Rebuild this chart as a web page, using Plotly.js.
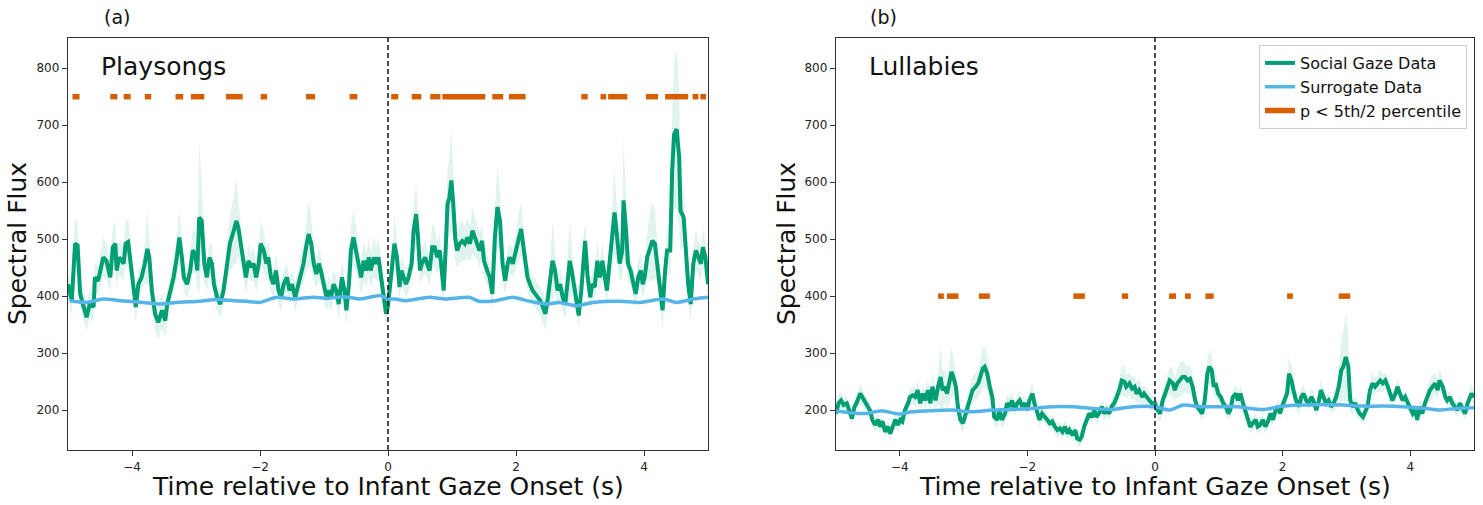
<!DOCTYPE html>
<html><head><meta charset="utf-8">
<script src="https://cdn.plot.ly/plotly-3.0.1.min.js"></script>
<style>html,body{margin:0;padding:0;background:#fff}</style>
</head><body><div id="chart" style="width:1483px;height:505px"></div>
<script>
// ---------- Playsongs (a) ----------
const psTime = [
-5.00,-4.94,-4.89,-4.85,-4.81,-4.76,-4.71,-4.66,-4.60,-4.58,
-4.53,-4.47,-4.45,-4.40,-4.34,-4.30,-4.26,-4.24,-4.20,-4.16,
-4.13,-4.10,-4.06,-4.02,-3.98,-3.94,-3.90,-3.85,-3.80,-3.76,
-3.73,-3.69,-3.64,-3.59,-3.53,-3.48,-3.45,-3.40,-3.35,-3.30,
-3.26,-3.22,-3.19,-3.14,-3.09,-3.05,-3.01,-2.98,-2.95,-2.91,
-2.87,-2.83,-2.79,-2.75,-2.72,-2.67,-2.62,-2.57,-2.52,-2.47,
-2.41,-2.37,-2.34,-2.30,-2.26,-2.22,-2.18,-2.14,-2.10,-2.06,
-2.02,-1.99,-1.94,-1.90,-1.87,-1.83,-1.79,-1.75,-1.71,-1.67,
-1.63,-1.58,-1.54,-1.50,-1.45,-1.40,-1.36,-1.32,-1.28,-1.24,
-1.20,-1.16,-1.12,-1.08,-1.05,-1.01,-0.96,-0.93,-0.89,-0.85,
-0.81,-0.77,-0.72,-0.68,-0.65,-0.61,-0.58,-0.54,-0.50,-0.46,
-0.42,-0.38,-0.34,-0.30,-0.27,-0.22,-0.18,-0.15,-0.11,-0.07,
-0.03,0.00,
0.04,0.07,0.10,0.14,0.18,0.21,0.25,0.28,0.32,0.37,
0.40,0.44,0.47,0.50,0.53,0.58,0.61,0.65,0.69,0.73,
0.77,0.81,0.84,0.87,0.90,0.93,0.96,0.99,1.02,1.05,
1.08,1.12,1.16,1.20,1.24,1.28,1.32,1.36,1.40,1.43,
1.47,1.50,1.55,1.59,1.63,1.67,1.71,1.75,1.79,1.83,
1.87,1.90,1.95,2.00,2.04,2.08,2.11,2.15,2.18,2.22,
2.26,2.30,2.34,2.38,2.42,2.46,2.50,2.53,2.57,2.61,
2.65,2.69,2.73,2.77,2.81,2.84,2.87,2.91,2.95,2.98,
3.02,3.05,3.08,3.12,3.16,3.19,3.23,3.27,3.31,3.35,
3.39,3.42,3.46,3.51,3.54,3.58,3.62,3.66,3.68,3.72,
3.75,3.79,3.83,3.87,3.91,3.95,3.98,4.01,4.05,4.09,
4.13,4.17,4.21,4.25,4.29,4.33,4.36,4.41,4.44,4.47,
4.51,4.55,4.57,4.62,4.66,4.69,4.73,4.77,4.81,4.85,
4.89,4.92,4.96,4.98,5.00];
const psMean = [
421,392,492,489,404,386,363,386,381,433,
427,457,468,462,433,486,492,445,468,462,
457,492,495,457,410,381,421,433,457,483,
468,410,369,354,375,357,386,410,433,468,
503,468,433,421,445,480,474,445,538,532,
457,433,468,457,421,398,386,410,457,492,
515,532,521,492,457,433,462,451,457,433,
457,492,480,457,468,433,421,445,410,398,
421,433,410,421,398,421,445,457,486,509,
492,457,439,457,445,421,398,410,398,421,
410,386,433,410,375,421,480,503,480,457,
433,462,445,468,445,468,457,468,433,398,
369,383,
421,457,492,468,416,445,433,421,433,457,
515,544,503,445,457,468,457,445,486,486,
468,480,445,410,480,562,573,603,562,503,
480,492,497,492,503,492,515,503,492,480,
497,462,445,433,404,503,556,532,457,427,
457,468,457,480,503,518,492,457,433,421,
410,404,398,392,381,369,398,421,462,445,
410,421,398,386,433,462,445,416,398,366,
410,468,497,433,398,421,416,462,433,462,
433,410,457,515,547,503,457,480,568,515,
457,445,421,404,433,445,421,433,468,486,
497,492,457,421,375,445,480,480,620,684,
693,643,550,538,480,421,386,457,480,468,
457,486,468,445,421];
const psErr = [
25,25,45,40,25,25,25,25,25,25,
25,30,35,30,25,35,40,30,30,30,
30,40,40,30,25,25,25,25,35,65,
40,25,30,30,30,30,25,25,30,35,
50,35,25,25,30,40,35,30,135,60,
35,25,30,30,25,25,25,25,35,50,
60,75,50,35,25,30,30,25,30,25,
30,40,35,30,30,25,25,30,25,25,
25,25,25,25,25,25,30,35,45,58,
45,30,25,30,25,25,25,25,25,25,
25,25,30,25,25,30,40,48,40,30,
30,35,30,35,30,35,30,35,30,25,
25,25,
25,25,50,30,25,25,25,25,25,25,
40,60,35,25,25,30,25,25,40,35,
30,30,25,25,35,60,70,90,60,40,
30,35,35,30,35,30,40,35,30,30,
30,30,25,25,30,50,73,50,30,25,
25,25,25,30,40,47,35,25,25,25,
25,25,25,25,28,29,25,25,70,40,
25,30,25,25,40,70,40,25,25,25,
25,35,30,25,25,25,25,35,25,30,
25,25,30,60,79,45,30,50,110,60,
30,25,25,25,30,30,25,25,40,60,
70,60,35,25,35,30,40,45,100,130,
140,120,70,50,35,30,30,30,35,30,
30,35,30,25,25];
const psSurTime = [-4.97,-4.71,-4.45,-4.19,-3.82,-3.56,-3.30,-2.94,-2.67,-2.41,-2.21,-2.00,-1.74,-1.48,-1.16,-0.95,-0.69,-0.43,-0.12,0.00,
 0.12,0.27,0.64,0.90,1.27,1.42,1.68,1.95,2.21,2.47,2.68,2.94,3.20,3.62,3.94,4.30,4.51,4.77,5.00];
const psSurMean = [392,389,395,392,389,386,389,391,394,392,391,389,398,395,398,396,399,395,401,395,
 395,392,398,395,398,391,392,398,391,386,389,383,389,391,389,395,389,395,398];
const psSigStart = [-4.93,-4.34,-4.13,-3.80,-3.32,-3.08,-2.53,-1.99,-1.28,-0.60,0.05,0.37,0.66,0.85,1.63,1.89,3.02,3.32,3.44,4.03,4.33,4.76,4.88];
const psSigEnd   = [-4.82,-4.23,-4.02,-3.70,-3.20,-2.87,-2.27,-1.89,-1.14,-0.48,0.16,0.52,0.82,1.52,1.80,2.15,3.12,3.41,3.74,4.22,4.69,4.85,4.97];
const psSigLevel = 750;

// ---------- Lullabies (b) ----------
const lbTime = [
-5.00,-4.96,-4.92,-4.88,-4.83,-4.80,-4.75,-4.71,-4.68,-4.62,
-4.59,-4.54,-4.50,-4.47,-4.43,-4.39,-4.34,-4.31,-4.27,-4.23,
-4.19,-4.15,-4.11,-4.07,-4.03,-3.99,-3.96,-3.92,-3.87,-3.84,
-3.80,-3.76,-3.72,-3.68,-3.64,-3.60,-3.56,-3.52,-3.49,-3.44,
-3.40,-3.36,-3.33,-3.30,-3.26,-3.22,-3.19,-3.16,-3.12,-3.09,
-3.05,-3.01,-2.97,-2.93,-2.89,-2.86,-2.81,-2.77,-2.74,-2.70,
-2.67,-2.63,-2.59,-2.55,-2.52,-2.47,-2.44,-2.40,-2.35,-2.32,
-2.28,-2.24,-2.20,-2.16,-2.12,-2.08,-2.04,-2.00,-1.97,-1.92,
-1.89,-1.84,-1.81,-1.77,-1.72,-1.69,-1.65,-1.61,-1.57,-1.53,
-1.49,-1.45,-1.41,-1.37,-1.34,-1.29,-1.25,-1.22,-1.18,-1.15,
-1.11,-1.07,-1.03,-0.99,-0.95,-0.92,-0.88,-0.83,-0.80,-0.76,
-0.72,-0.68,-0.64,-0.60,-0.56,-0.52,-0.48,-0.45,-0.40,-0.36,
-0.32,-0.29,-0.25,-0.20,-0.17,-0.13,-0.09,-0.05,
0.00,0.04,0.08,0.12,0.16,0.19,0.23,0.28,0.31,0.35,
0.39,0.43,0.47,0.51,0.55,0.59,0.63,0.66,0.70,0.74,
0.78,0.82,0.85,0.89,0.92,0.95,0.99,1.03,1.07,1.11,
1.15,1.18,1.22,1.27,1.30,1.34,1.38,1.42,1.46,1.49,
1.54,1.58,1.61,1.65,1.69,1.73,1.77,1.81,1.85,1.89,
1.93,1.96,1.99,2.03,2.07,2.10,2.14,2.17,2.21,2.26,
2.29,2.33,2.37,2.41,2.45,2.48,2.53,2.57,2.60,2.64,
2.68,2.72,2.76,2.80,2.84,2.88,2.92,2.95,2.99,3.03,
3.06,3.10,3.14,3.18,3.21,3.26,3.30,3.33,3.37,3.41,
3.45,3.49,3.53,3.57,3.61,3.65,3.68,3.72,3.77,3.80,
3.84,3.88,3.92,3.96,3.99,4.04,4.08,4.11,4.15,4.19,
4.23,4.27,4.31,4.35,4.39,4.43,4.46,4.51,4.55,4.58,
4.62,4.66,4.70,4.74,4.78,4.82,4.86,4.90,4.93,4.96,
5.00];
const lbMean = [
194,212,217,209,212,200,185,206,212,229,
223,212,206,200,183,174,183,171,180,162,
171,159,171,183,174,183,180,200,212,223,
226,223,235,212,229,217,235,212,241,217,
241,258,235,241,229,252,267,258,241,206,
183,177,194,206,223,235,241,247,258,273,
276,264,241,223,188,183,200,183,194,212,
206,217,200,212,217,206,212,200,217,229,
212,194,183,194,188,183,177,180,171,165,
168,162,171,159,165,156,165,150,148,153,
171,183,194,188,200,188,194,206,194,200,
194,206,212,223,235,252,250,241,247,238,
241,229,235,223,229,223,217,212,
212,200,194,217,229,241,252,247,235,247,
252,258,258,252,255,241,217,206,200,194,
217,264,276,270,241,247,229,223,212,206,
194,200,223,229,217,229,212,194,183,171,
177,183,171,174,183,171,180,194,183,200,
206,194,206,217,229,264,252,235,217,206,
223,229,217,212,223,217,200,217,235,223,
212,217,206,212,223,241,270,276,293,276,
217,206,212,200,194,188,197,206,235,247,
241,247,252,247,252,241,229,217,229,241,
229,217,223,212,206,194,200,183,206,194,
212,223,235,241,247,235,252,241,223,217,
223,212,206,200,212,203,194,212,223,229,
223];
const lbErr = [
12,15,15,12,12,12,12,12,12,20,
15,12,12,12,12,12,12,12,12,12,
12,12,12,12,12,12,12,12,15,15,
15,15,20,15,15,15,20,15,25,20,
30,56,35,30,25,40,45,35,25,20,
15,15,15,20,20,25,25,25,30,35,
35,30,25,20,15,15,15,15,15,15,
15,15,12,12,15,12,12,12,15,20,
12,12,12,12,12,12,12,12,12,12,
12,12,12,12,12,12,12,12,12,12,
12,12,12,12,12,12,12,12,12,12,
12,12,15,15,20,27,25,20,20,20,
20,20,20,15,15,15,15,15,
12,15,15,20,20,20,25,25,20,25,
30,30,25,25,25,20,15,12,12,12,
15,25,30,25,20,20,15,12,12,12,
12,12,15,15,15,15,15,12,12,12,
12,12,12,12,12,12,12,12,12,12,
12,12,12,15,15,32,25,20,15,12,
15,15,12,12,15,15,12,15,20,15,
12,12,12,15,20,30,55,60,77,60,
20,15,12,12,12,12,12,12,15,20,
15,15,20,15,15,15,15,12,12,15,
12,12,12,12,12,12,12,12,12,12,
12,15,20,20,20,15,20,15,12,12,
12,12,12,12,12,12,12,12,15,15,
15];
const lbSurTime = [-5.00,-4.75,-4.54,-4.28,-4.02,-3.81,-3.50,-3.18,-2.87,-2.55,-2.24,-1.92,-1.61,-1.29,-0.98,-0.67,-0.35,0.00,
 0.23,0.44,0.70,0.96,1.28,1.69,2.01,2.32,2.63,2.94,3.26,3.57,3.88,4.24,4.45,4.71,5.00];
const lbSurMean = [199,195,194,199,193,197,199,200,197,200,201,203,206,206,203,201,206,206,
 200,209,206,206,206,201,207,209,210,209,207,207,206,203,200,203,204];
const lbSigStart = [-3.40,-3.26,-2.76,-1.28,-0.52,0.22,0.47,0.79,2.07,2.88];
const lbSigEnd   = [-3.31,-3.08,-2.59,-1.10,-0.42,0.33,0.56,0.92,2.16,3.06];
const lbSigLevel = 400;

const seriesNames = ['Social Gaze Data','Surrogate Data','p < 5th/2 percentile'];
const xTickVals = [-4,-2,0,2,4];
const yTickVals = [200,300,400,500,600,700,800];

// ---------- build ----------
const GREEN = '#009E73', BLUE = '#56B4E9', ORANGE = '#D55E00';
const FONT = 'DejaVu Sans, Verdana, sans-serif';
const W = 1483, H = 505;

function band(t, m, e, xa, ya) {
  const up = m.map((v, i) => v + e[i]);
  const lo = m.map((v, i) => v - e[i]);
  return {x: t.concat(t.slice().reverse()), y: up.concat(lo.slice().reverse()),
    xaxis: xa, yaxis: ya, type: 'scatter', mode: 'lines', fill: 'toself',
    fillcolor: 'rgba(0,158,115,0.12)', line: {width: 0}, hoverinfo: 'skip', showlegend: false};
}
function sig(starts, ends, level) {
  const x = [], y = [];
  starts.forEach((s, i) => { x.push(s, ends[i], null); y.push(level, level, null); });
  return {x, y};
}
function panel(t, m, e, st, sm, ss, se, lvl, xa, ya, leg) {
  const s = sig(ss, se, lvl);
  return [
    band(t, m, e, xa, ya),
    {x: t, y: m, xaxis: xa, yaxis: ya, type: 'scatter', mode: 'lines', name: seriesNames[0],
     line: {color: GREEN, width: 4}, showlegend: leg},
    {x: st, y: sm, xaxis: xa, yaxis: ya, type: 'scatter', mode: 'lines', name: seriesNames[1],
     line: {color: BLUE, width: 3.5, shape: 'spline', smoothing: 0.6}, showlegend: leg},
    {x: s.x, y: s.y, xaxis: xa, yaxis: ya, type: 'scatter', mode: 'lines', name: seriesNames[2],
     line: {color: ORANGE, width: 5.5}, connectgaps: false, showlegend: leg}
  ];
}

const data = [
  ...panel(psTime, psMean, psErr, psSurTime, psSurMean, psSigStart, psSigEnd, psSigLevel, 'x', 'y', false),
  ...panel(lbTime, lbMean, lbErr, lbSurTime, lbSurMean, lbSigStart, lbSigEnd, lbSigLevel, 'x2', 'y2', true)
];

const axX = (dom, anchor) => ({domain: dom, anchor: anchor, range: [-5, 5], tickvals: xTickVals,
  ticks: 'outside', ticklen: 5, tickwidth: 1, tickcolor: '#333', showline: true, mirror: true,
  linecolor: '#333', linewidth: 1.2, showgrid: false, zeroline: false,
  tickfont: {family: FONT, size: 12, color: '#222'}});
const axY = (anchor) => ({domain: [1 - 450 / H, 1 - 38 / H], anchor: anchor, range: [130, 853],
  tickvals: yTickVals, ticks: 'outside', ticklen: 5, tickwidth: 1, tickcolor: '#333', showline: true,
  mirror: true, linecolor: '#333', linewidth: 1.2, showgrid: false, zeroline: false,
  tickfont: {family: FONT, size: 12, color: '#222'}});

const px = v => v / W, py = v => 1 - v / H;
const ann = (x, y, text, size, extra) => Object.assign({xref: 'paper', yref: 'paper', x: px(x), y: py(y),
  xanchor: 'center', yanchor: 'middle',
  text: text, showarrow: false, font: {family: FONT, size: size, color: '#111'}}, extra || {});

const layout = {
  width: W, height: H, margin: {l: 0, r: 0, t: 0, b: 0},
  paper_bgcolor: '#fff', plot_bgcolor: '#fff',
  xaxis: axX([68 / W, 708 / W], 'y'),
  yaxis: axY('x'),
  xaxis2: axX([836 / W, 1474 / W], 'y2'),
  yaxis2: axY('x2'),
  showlegend: true,
  legend: {x: 1467 / W, xanchor: 'right', y: 1 - 45 / H, yanchor: 'top',
    bgcolor: 'rgba(255,255,255,0.9)', bordercolor: '#cccccc', borderwidth: 1,
    font: {family: FONT, size: 16, color: '#111'}, tracegroupgap: 0},
  shapes: [
    {type: 'line', xref: 'x', yref: 'y domain', x0: 0, x1: 0, y0: 0, y1: 1,
     line: {color: '#222', width: 1.6, dash: '5px,3px'}},
    {type: 'line', xref: 'x2', yref: 'y2 domain', x0: 0, x1: 0, y0: 0, y1: 1,
     line: {color: '#222', width: 1.6, dash: '5px,3px'}}
  ],
  annotations: [
    ann(117, 17, '(a)', 19),
    ann(884, 17, '(b)', 19),
    ann(99, 66, 'Playsongs', 25, {xanchor: 'left'}),
    ann(867, 66, 'Lullabies', 25, {xanchor: 'left'}),
    ann(388, 486, 'Time relative to Infant Gaze Onset (s)', 25),
    ann(1155, 486, 'Time relative to Infant Gaze Onset (s)', 25),
    ann(17, 244, 'Spectral Flux', 25, {textangle: -90}),
    ann(786, 244, 'Spectral Flux', 25, {textangle: -90})
  ]
};

Plotly.newPlot('chart', data, layout, {staticPlot: true, displayModeBar: false});
</script></body></html>
